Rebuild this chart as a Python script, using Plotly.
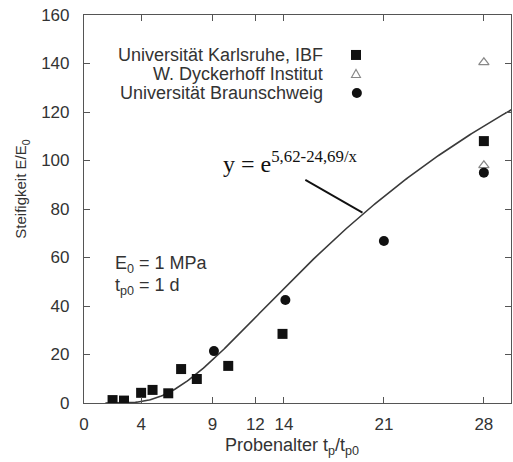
import numpy as np
import plotly.graph_objects as go

# Data
ka_x = [2.0, 2.8, 4.0, 4.8, 5.9, 6.8, 7.9, 10.1, 13.9, 28.0]
ka_y = [1.2, 1.0, 4.2, 5.4, 4.0, 14.0, 9.9, 15.3, 28.5, 108.0]
dy_x = [28.0, 28.0]
dy_y = [140.5, 98.0]
bs_x = [9.1, 14.1, 21.0, 28.0]
bs_y = [21.4, 42.5, 66.8, 95.0]

x_ticks = [0, 4, 9, 12, 14, 21, 28]
y_ticks = [0, 20, 40, 60, 80, 100, 120, 140, 160]

# fitted curve y = exp(5.62 - 24.69/x)
a, b = 5.62, 24.69
cx = np.linspace(1.5, 30, 300)
cy = np.exp(a - b / cx)

axis_col = "#555555"
txt_col = "#333333"
fam = "Liberation Sans, Arial, sans-serif"
font = dict(family=fam, size=18, color=txt_col)
tick_font = dict(family=fam, size=17, color=txt_col)

fig = go.Figure()
fig.add_trace(go.Scatter(x=cx, y=cy, mode="lines",
                         line=dict(color="#3a3a3a", width=1.6), showlegend=False))
fig.add_trace(go.Scatter(x=ka_x, y=ka_y, mode="markers",
                         marker=dict(symbol="square", size=10, color="#111111"),
                         showlegend=False))
fig.add_trace(go.Scatter(x=dy_x, y=dy_y, mode="markers",
                         marker=dict(symbol="triangle-up-open", size=9, color="#888888",
                                     line=dict(width=1.2)),
                         showlegend=False))
fig.add_trace(go.Scatter(x=bs_x, y=bs_y, mode="markers",
                         marker=dict(symbol="circle", size=10, color="#111111"),
                         showlegend=False))

axis_common = dict(showgrid=False, zeroline=False, showline=True, linecolor=axis_col,
                   linewidth=1.2, mirror="ticks", ticks="inside", ticklen=6,
                   tickcolor=axis_col, tickwidth=1.2, tickfont=tick_font)
fig.update_xaxes(range=[0, 29.9], tickmode="array", tickvals=x_ticks,
                 ticktext=[str(v) for v in x_ticks], ticklabelstandoff=5, **axis_common)
fig.update_yaxes(range=[0, 160], tickmode="array", tickvals=y_ticks,
                 ticktext=[str(v) for v in y_ticks], ticklabelstandoff=10, **axis_common)

annotations = [
    dict(text="Probenalter t<sub>p</sub>/t<sub>p0</sub>", xref="paper", yref="paper",
         x=0.488, y=-0.113, xanchor="center", yanchor="middle", showarrow=False,
         font=dict(family=fam, size=18, color=txt_col)),
    dict(text="Steifigkeit E/E<sub>0</sub>", xref="paper", yref="paper",
         x=-0.145, y=0.55, xanchor="center", yanchor="middle", textangle=-90,
         showarrow=False, font=dict(family=fam, size=15, color=txt_col)),
    dict(text="E<sub>0</sub> = 1 MPa", xref="paper", yref="paper", x=0.068, y=0.356,
         xanchor="left", yanchor="middle", showarrow=False, font=font),
    dict(text="t<sub>p0</sub> = 1 d", xref="paper", yref="paper", x=0.068, y=0.299,
         xanchor="left", yanchor="middle", showarrow=False, font=font),
    dict(text="y = e<sup>5,62-24,69/x</sup>", xref="paper", yref="paper", x=0.322, y=0.62,
         xanchor="left", yanchor="middle", showarrow=False,
         font=dict(family="Liberation Serif, Times New Roman, serif", size=24, color="#111111")),
]
legend_labels = ["Universität Karlsruhe, IBF", "W. Dyckerhoff Institut", "Universität Braunschweig"]
legend_y = [0.897, 0.848, 0.799]
for label, yy in zip(legend_labels, legend_y):
    annotations.append(dict(text=label, xref="paper", yref="paper", x=0.564, y=yy,
                            xanchor="right", yanchor="middle", showarrow=False, font=font))

sx = 0.637
shapes = [
    dict(type="line", xref="x", yref="y", x0=15.5, y0=92, x1=19.5, y1=78.5,
         line=dict(color="#111111", width=1.8)),
    # legend symbols
    dict(type="rect", xref="paper", yref="paper", xsizemode="pixel", ysizemode="pixel",
         xanchor=sx, yanchor=legend_y[0], x0=-5, x1=5, y0=-5, y1=5,
         fillcolor="#111111", line=dict(width=0)),
    dict(type="path", xref="paper", yref="paper", xsizemode="pixel", ysizemode="pixel",
         xanchor=sx, yanchor=legend_y[1], path="M -4.5 -3.5 L 4.5 -3.5 L 0 4.5 Z",
         fillcolor="rgba(0,0,0,0)", line=dict(color="#888888", width=1.1)),
    dict(type="circle", xref="paper", yref="paper", xsizemode="pixel", ysizemode="pixel",
         xanchor=sx + 0.002, yanchor=legend_y[2], x0=-5, x1=5, y0=-5, y1=5,
         fillcolor="#111111", line=dict(width=0)),
]

fig.update_layout(
    width=513, height=462,
    margin=dict(l=84, r=2, t=15, b=59),
    plot_bgcolor="white", paper_bgcolor="white",
    annotations=annotations,
    shapes=shapes,
)

fig.write_html("out.html")
